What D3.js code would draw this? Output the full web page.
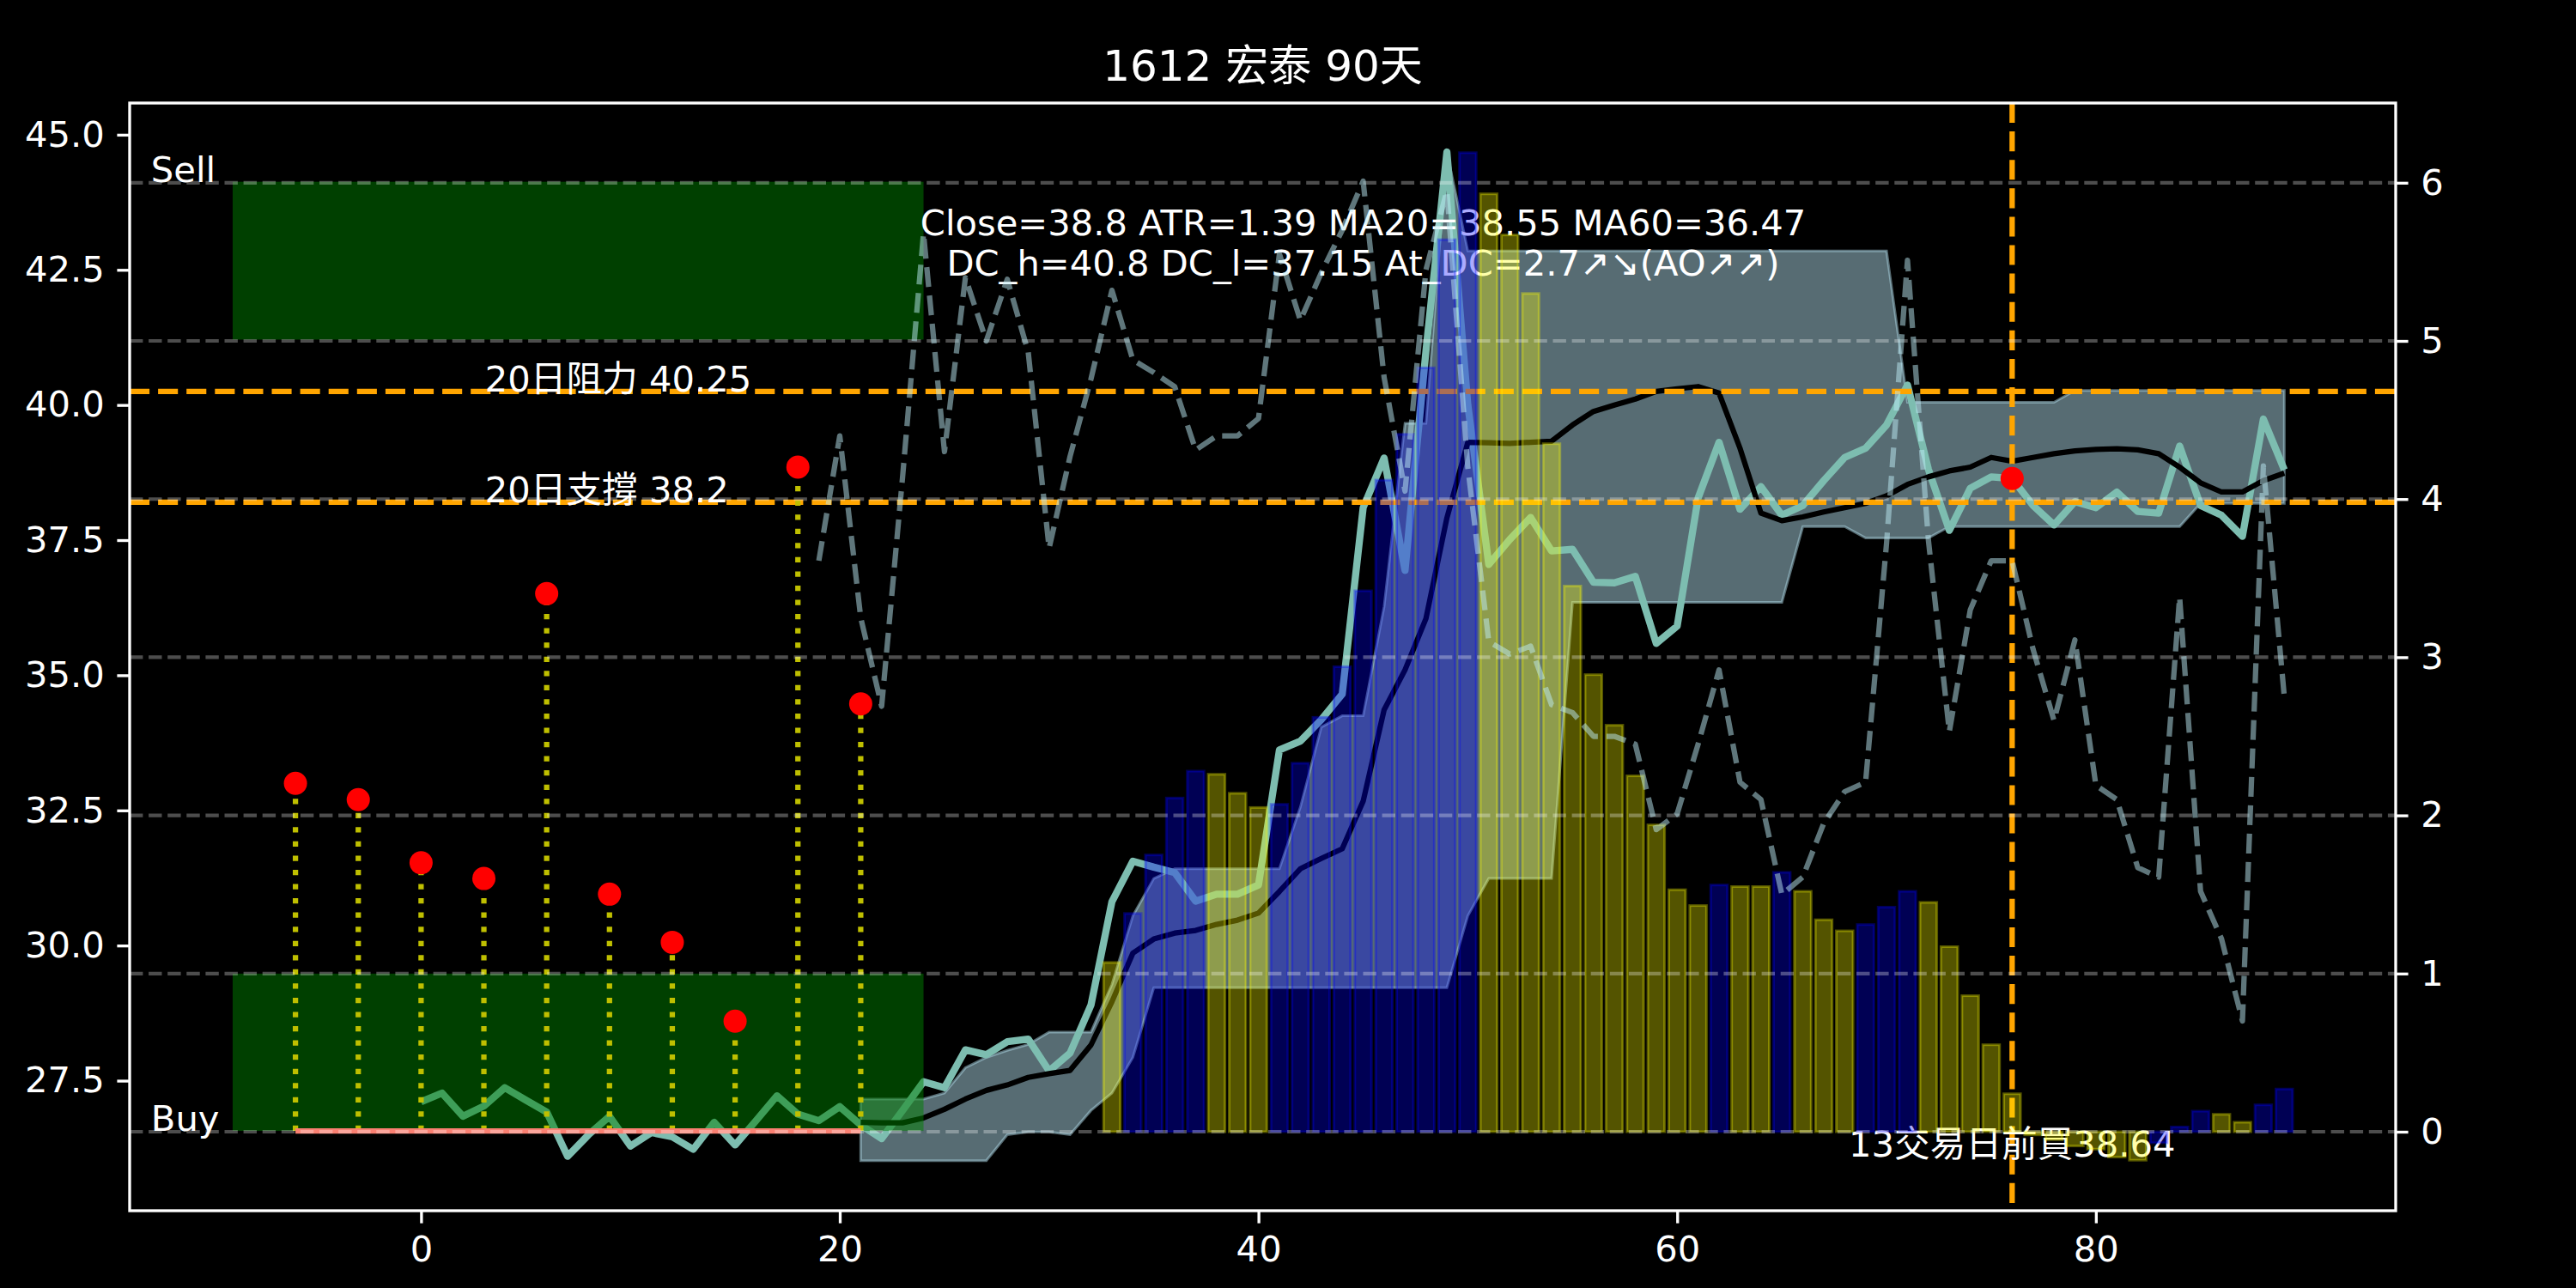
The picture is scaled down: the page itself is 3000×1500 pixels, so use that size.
<!DOCTYPE html>
<html><head><meta charset="utf-8">
<script src="https://cdn.jsdelivr.net/npm/d3@7"></script>
<style>
html,body{margin:0;padding:0;background:#000;}
svg{display:block;}
text{font-family:"DejaVu Sans","Noto Sans CJK TC",sans-serif;}
</style></head><body>
<svg id="chart" width="3000" height="1500"></svg>
<script>
// ---------------- data ----------------
const titleText = "1612 宏泰 90天";

const closeStart = 0;
const closeVals = [27.11,27.27,26.84,27.03,27.37,27.14,26.92,26.10,26.50,26.84,
  26.29,26.54,26.46,26.23,26.73,26.31,26.76,27.22,26.88,26.76,
  27.02,26.68,26.43,26.95,27.48,27.37,28.07,27.98,28.22,28.27,
  27.68,28.01,28.90,30.81,31.56,31.45,31.35,30.82,30.95,30.95,
  31.12,33.62,33.78,34.18,34.65,38.10,39.02,36.94,41.00,44.68,
  40.00,37.05,37.51,37.92,37.30,37.33,36.72,36.71,36.83,35.59,
  35.91,38.28,39.31,38.07,38.49,37.96,38.14,38.60,39.03,39.20,
  39.63,40.37,38.81,37.68,38.46,38.67,38.64,38.14,37.78,38.21,
  38.10,38.39,38.03,38.00,39.24,38.14,37.96,37.57,39.74,38.80];

const maStart = 21;
const maVals = [26.73,26.72,26.72,26.81,26.97,27.16,27.32,27.42,27.56,27.63,
  27.69,28.16,28.96,29.86,30.12,30.23,30.28,30.39,30.47,30.60,
  31.00,31.42,31.61,31.79,32.67,34.36,35.10,36.05,37.91,39.31,
  39.30,39.29,39.31,39.33,39.63,39.88,40.00,40.11,40.25,40.30,
  40.34,40.22,39.20,38.00,37.86,37.93,38.02,38.10,38.18,38.32,
  38.53,38.67,38.78,38.85,39.03,38.96,39.03,39.10,39.15,39.18,
  39.19,39.17,39.10,38.85,38.56,38.39,38.39,38.60,38.74];

const dcStart = 21;
const dcUpper = [27.16,27.16,27.16,27.16,27.27,27.74,27.93,28.06,28.17,28.40,
  28.40,28.40,29.28,30.55,31.24,31.42,31.42,31.42,31.42,31.42,
  31.42,32.56,34.04,34.25,34.25,36.27,39.66,39.66,44.68,42.85,
  42.85,42.85,42.85,42.85,42.85,42.85,42.85,42.85,42.85,42.85,
  42.85,42.85,42.85,42.85,42.85,42.85,42.85,42.85,42.85,42.85,
  40.05,40.05,40.05,40.05,40.05,40.05,40.05,40.05,40.27,40.27,
  40.27,40.27,40.27,40.27,40.27,40.27,40.27,40.27,40.27];
const dcLower = [26.02,26.02,26.02,26.02,26.02,26.02,26.02,26.50,26.55,26.55,
  26.50,26.95,27.27,27.93,29.22,29.22,29.22,29.22,29.22,29.22,
  29.22,29.22,29.22,29.22,29.22,29.22,29.22,29.22,29.22,30.55,
  31.24,31.24,31.24,31.24,36.35,36.35,36.35,36.35,36.35,36.35,
  36.35,36.35,36.35,36.35,36.35,37.75,37.75,37.75,37.54,37.54,
  37.54,37.54,37.75,37.75,37.75,37.75,37.75,37.75,37.75,37.75,
  37.75,37.75,37.75,37.75,38.18,38.18,38.18,38.18,38.18];

const barStart = 33;
const barVals = [1.07,1.38,1.75,2.11,2.28,2.26,2.14,2.05,2.07,2.33,
  2.62,2.94,3.42,4.12,4.41,4.83,5.64,6.19,5.93,5.67,
  5.30,4.35,3.45,2.89,2.57,2.25,1.94,1.53,1.43,1.56,
  1.55,1.55,1.64,1.52,1.34,1.27,1.31,1.42,1.52,1.45,
  1.17,0.86,0.55,0.24,-0.02,-0.05,-0.09,-0.11,-0.16,-0.18,
  -0.07,0.03,0.13,0.11,0.06,0.17,0.27];
const barColors = ["Y","B","B","B","B","Y","Y","Y","B","B",
  "B","B","B","B","B","B","B","B","Y","Y",
  "Y","Y","Y","Y","Y","Y","Y","Y","Y","B",
  "Y","Y","B","Y","Y","Y","B","B","B","Y",
  "Y","Y","Y","Y","Y","Y","Y","Y","Y","Y",
  "B","B","B","Y","Y","B","B"];

const atrStart = 19;
const atrVals = [3.61,4.40,3.25,2.69,4.14,5.68,4.30,5.40,5.00,5.39,
  4.93,3.69,4.27,4.76,5.32,4.88,4.80,4.71,4.31,4.40,
  4.40,4.51,5.55,5.13,5.43,5.70,6.01,4.77,4.05,5.45,
  5.95,4.20,3.10,3.02,3.07,2.70,2.65,2.50,2.50,2.45,
  1.91,2.01,2.45,2.92,2.21,2.10,1.50,1.61,1.95,2.15,
  2.21,3.72,5.51,3.74,2.53,3.30,3.61,3.61,3.05,2.60,
  3.11,2.19,2.10,1.67,1.61,3.38,1.52,1.22,0.70,4.21,2.75];

const signalX = [-6,-3,0,3,6,9,12,15,18,21];
const signalY = [33.00,32.70,31.53,31.24,36.51,30.95,30.06,28.60,38.85,34.47];

const zoneX = [-9, 24];
const sellZone = [41.21, 44.13];
const buyZone = [26.57, 29.48];
const buyLevel = 26.57;
const resistance = 40.25;
const support = 38.2;
const markX = 76;
const markY = 38.64;

const leftTicks = [27.5,30.0,32.5,35.0,37.5,40.0,42.5,45.0];
const rightTicks = [0,1,2,3,4,5,6];
const xTicks = [0,20,40,60,80];

const infoLines = ["Close=38.8 ATR=1.39 MA20=38.55 MA60=36.47",
                   "DC_h=40.8 DC_l=37.15 At_DC=2.7↗↘(AO↗↗)"];
const buyNote = "13交易日前買38.64";
const resLabel = "20日阻力 40.25";
const supLabel = "20日支撐 38.2";
const sellLabel = "Sell";
const buyLabel = "Buy";

// ---------------- layout ----------------
const L = 151, R = 2790, T = 120, B = 1410;
const FS = 41.67;
const svg = d3.select("#chart");
svg.append("rect").attr("width",3000).attr("height",1500).attr("fill","#000");

const x = d3.scaleLinear().domain([-13.92, 94.32]).range([L, R]);
const yL = d3.scaleLinear().domain([25.094, 45.586]).range([B, T]);
const yR = d3.scaleLinear().domain([-0.4995, 6.504]).range([B, T]);

svg.append("defs").append("clipPath").attr("id","clip")
  .append("rect").attr("x",L).attr("y",T).attr("width",R-L).attr("height",B-T);

const series = (start, arr) => arr.map((v,i)=>({x:start+i, v:v}));
const closeData = series(closeStart, closeVals);
const maData = series(maStart, maVals);
const dcData = dcUpper.map((u,i)=>({x:dcStart+i, hi:u, lo:dcLower[i]}));
const barData = barVals.map((v,i)=>({x:barStart+i, v:v, c:barColors[i]}));
const atrData = series(atrStart, atrVals);

const ax1 = svg.append("g").attr("clip-path","url(#clip)");

// channel fill
ax1.append("path").datum(dcData)
  .attr("d", d3.area().x(d=>x(d.x)).y0(d=>yL(d.lo)).y1(d=>yL(d.hi)))
  .attr("fill","rgb(173,216,230)").attr("fill-opacity",0.5)
  .attr("stroke","rgb(173,216,230)").attr("stroke-opacity",0.5).attr("stroke-width",3);

const lineL = d3.line().x(d=>x(d.x)).y(d=>yL(d.v));
ax1.append("path").datum(closeData).attr("d",lineL)
  .attr("fill","none").attr("stroke","#7dbdb0").attr("stroke-width",8.33)
  .attr("stroke-linejoin","round");
ax1.append("path").datum(maData).attr("d",lineL)
  .attr("fill","none").attr("stroke","#000").attr("stroke-width",6.25)
  .attr("stroke-linejoin","round");

// buy / sell zones
[sellZone,buyZone].forEach(z=>{
  ax1.append("rect").attr("x",x(zoneX[0])).attr("width",x(zoneX[1])-x(zoneX[0]))
    .attr("y",yL(z[1])).attr("height",yL(z[0])-yL(z[1]))
    .attr("fill","rgb(0,128,0)").attr("fill-opacity",0.5);
});

// resistance / support lines
[resistance,support].forEach(v=>{
  ax1.append("line").attr("x1",L).attr("x2",R).attr("y1",yL(v)).attr("y2",yL(v))
    .attr("stroke","#FFA500").attr("stroke-width",6.25).attr("stroke-dasharray","23.1,10");
});
ax1.append("line").attr("x1",x(markX)).attr("x2",x(markX)).attr("y1",T).attr("y2",B)
  .attr("stroke","#FFA500").attr("stroke-width",6.25).attr("stroke-dasharray","23.1,10");

// signal stems and dots
signalX.forEach((sx,i)=>{
  ax1.append("line").attr("x1",x(sx)).attr("x2",x(sx))
    .attr("y1",yL(buyLevel)).attr("y2",yL(signalY[i]))
    .attr("stroke","#BFBF00").attr("stroke-width",6.25).attr("stroke-dasharray","6.25,10.3");
});
signalX.forEach((sx,i)=>{
  ax1.append("circle").attr("cx",x(sx)).attr("cy",yL(signalY[i])).attr("r",13.5).attr("fill","#FF0000");
});
ax1.append("line").attr("x1",x(signalX[0])).attr("x2",x(signalX[signalX.length-1]))
  .attr("y1",yL(buyLevel)).attr("y2",yL(buyLevel))
  .attr("stroke","#FA8072").attr("stroke-width",6.25);
ax1.append("circle").attr("cx",x(markX)).attr("cy",yL(markY)).attr("r",13.5).attr("fill","#FF0000");

// texts
const txt = (g, s, tx, ty, anchor, size) => g.append("text").text(s)
  .attr("x",tx).attr("y",ty).attr("text-anchor",anchor||"start")
  .attr("font-size",size||FS).attr("fill","#fff");
txt(ax1, sellLabel, x(-12.9), yL(sellZone[1]));
txt(ax1, buyLabel, x(-12.9), yL(buyLevel));
txt(ax1, resLabel, x(3.05), yL(resistance));
txt(ax1, supLabel, x(3.05), yL(support));
txt(ax1, infoLines[0], x(45), yL(43.14), "middle");
txt(ax1, infoLines[1], x(45), yL(43.14)+47, "middle");
txt(ax1, buyNote, x(markX), yL(26.09), "middle");

// ---------------- right axis layer ----------------
const ax2 = svg.append("g").attr("clip-path","url(#clip)");
const colMap = {Y:"rgb(255,255,0)", B:"rgb(0,0,255)"};
ax2.selectAll("rect.bar").data(barData).enter().append("rect").attr("class","bar")
  .attr("x",d=>x(d.x-0.4)).attr("width",x(0.8)-x(0))
  .attr("y",d=>yR(Math.max(d.v,0))).attr("height",d=>Math.abs(yR(d.v)-yR(0)))
  .attr("fill",d=>colMap[d.c]).attr("fill-opacity",0.33)
  .attr("stroke",d=>colMap[d.c]).attr("stroke-opacity",0.33).attr("stroke-width",3);

rightTicks.forEach(v=>{
  ax2.append("line").attr("x1",L).attr("x2",R).attr("y1",yR(v)).attr("y2",yR(v))
    .attr("stroke","#fff").attr("stroke-opacity",0.3).attr("stroke-width",4.17)
    .attr("stroke-dasharray","15.4,6.7");
});

ax2.append("path").datum(atrData)
  .attr("d", d3.line().x(d=>x(d.x)).y(d=>yR(d.v)))
  .attr("fill","none").attr("stroke","rgb(190,235,245)").attr("stroke-opacity",0.5)
  .attr("stroke-width",6.25).attr("stroke-dasharray","23.1,10").attr("stroke-linejoin","round");

// ---------------- axes ----------------
function styleAxis(g){
  g.select(".domain").remove();
  g.selectAll("line").attr("stroke","#fff").attr("stroke-width",3.33);
  g.selectAll("text").attr("fill","#fff").attr("font-size",FS)
    .attr("font-family","DejaVu Sans, Noto Sans CJK TC, sans-serif");
}
svg.append("g").attr("transform",`translate(${L},0)`)
  .call(d3.axisLeft(yL).tickValues(leftTicks).tickFormat(d3.format(".1f"))
    .tickSizeInner(14.6).tickSizeOuter(0).tickPadding(14.6)).call(styleAxis);
svg.append("g").attr("transform",`translate(${R},0)`)
  .call(d3.axisRight(yR).tickValues(rightTicks).tickFormat(d3.format("d"))
    .tickSizeInner(14.6).tickSizeOuter(0).tickPadding(14.6)).call(styleAxis);
svg.append("g").attr("transform",`translate(0,${B})`)
  .call(d3.axisBottom(x).tickValues(xTicks).tickFormat(d3.format("d"))
    .tickSizeInner(14.6).tickSizeOuter(0).tickPadding(14.6)).call(styleAxis);

svg.append("rect").attr("x",L).attr("y",T).attr("width",R-L).attr("height",B-T)
  .attr("fill","none").attr("stroke","#fff").attr("stroke-width",3.33);

txt(svg, titleText, (L+R)/2, 94, "middle", 50);
</script>
</body></html>
